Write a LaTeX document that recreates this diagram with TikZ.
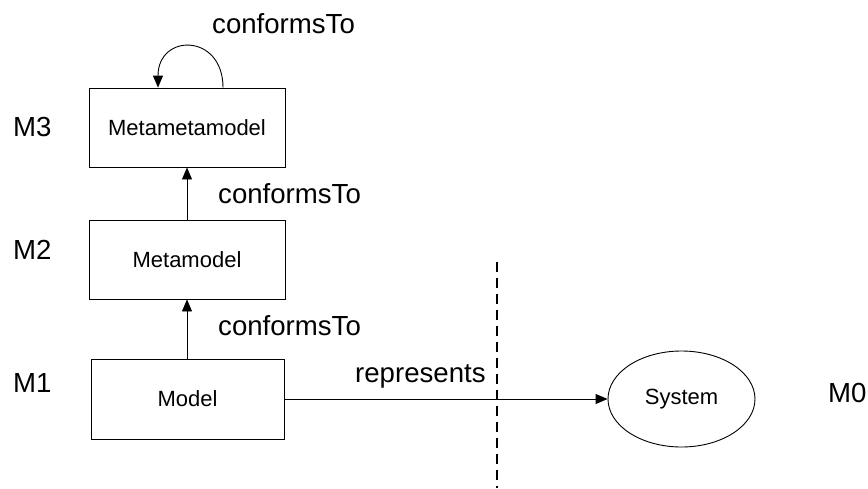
\documentclass[tikz,border=0pt]{standalone}
\usepackage{fontspec}
\setmainfont{Liberation Sans}
\usetikzlibrary{arrows.meta,shapes.geometric}
\begin{document}
\begin{tikzpicture}[x=1pt,y=-1pt,
  box/.style={draw,line width=0.9pt,inner sep=0pt,font=\fontsize{22}{26}\selectfont},
  ell/.style={ellipse,draw,line width=0.9pt,inner sep=0pt,font=\fontsize{22}{26}\selectfont},
  lbl/.style={inner sep=0pt,anchor=base west,font=\fontsize{27.6}{32}\selectfont},
  conn/.style={line width=0.9pt,-{Triangle[length=12pt,width=10pt]}},
  sep/.style={line width=2pt,dash pattern=on 10pt off 6pt}]
\useasboundingbox (0,0) rectangle (868,488);
\node[box,minimum width=196pt,minimum height=79pt] (mmm) at (187,127.5) {Metametamodel};
\node[box,minimum width=196pt,minimum height=79pt] (mm) at (187,259.5) {Metamodel};
\node[box,minimum width=193pt,minimum height=80pt] (m) at (187.5,399) {Model};
\node[ell,minimum width=147pt,minimum height=96pt] (sys) at (681.5,399) {System};
\node[lbl] (l3) at (13,136) {M3};
\node[lbl] (l2) at (13,259) {M2};
\node[lbl] (l1) at (13,392) {M1};
\node[lbl] (l0) at (828,402) {M0};
\node[lbl] (c3) at (212,33) {conformsTo};
\node[lbl] (c2) at (218,203) {conformsTo};
\node[lbl] (c1) at (218,335) {conformsTo};
\node[lbl] (rep) at (355,382) {represents};
\coordinate (loopa) at ([xshift=36pt]mmm.north);
\coordinate (loopb) at ([xshift=-29pt]mmm.north);
\draw[conn] (loopa) to[out=90,in=90,looseness=2.15] (loopb);
\draw[conn] (mm.north -| 187,0) -- (mmm.south -| 187,0);
\draw[conn] (m.north -| 187,0) -- (mm.south -| 187,0);
\draw[conn] (m.east) -- (sys.west);
\coordinate (sa) at (497,262);
\coordinate (sb) at (497,488);
\draw[sep] (sa) -- (sb);
\end{tikzpicture}
\end{document}
